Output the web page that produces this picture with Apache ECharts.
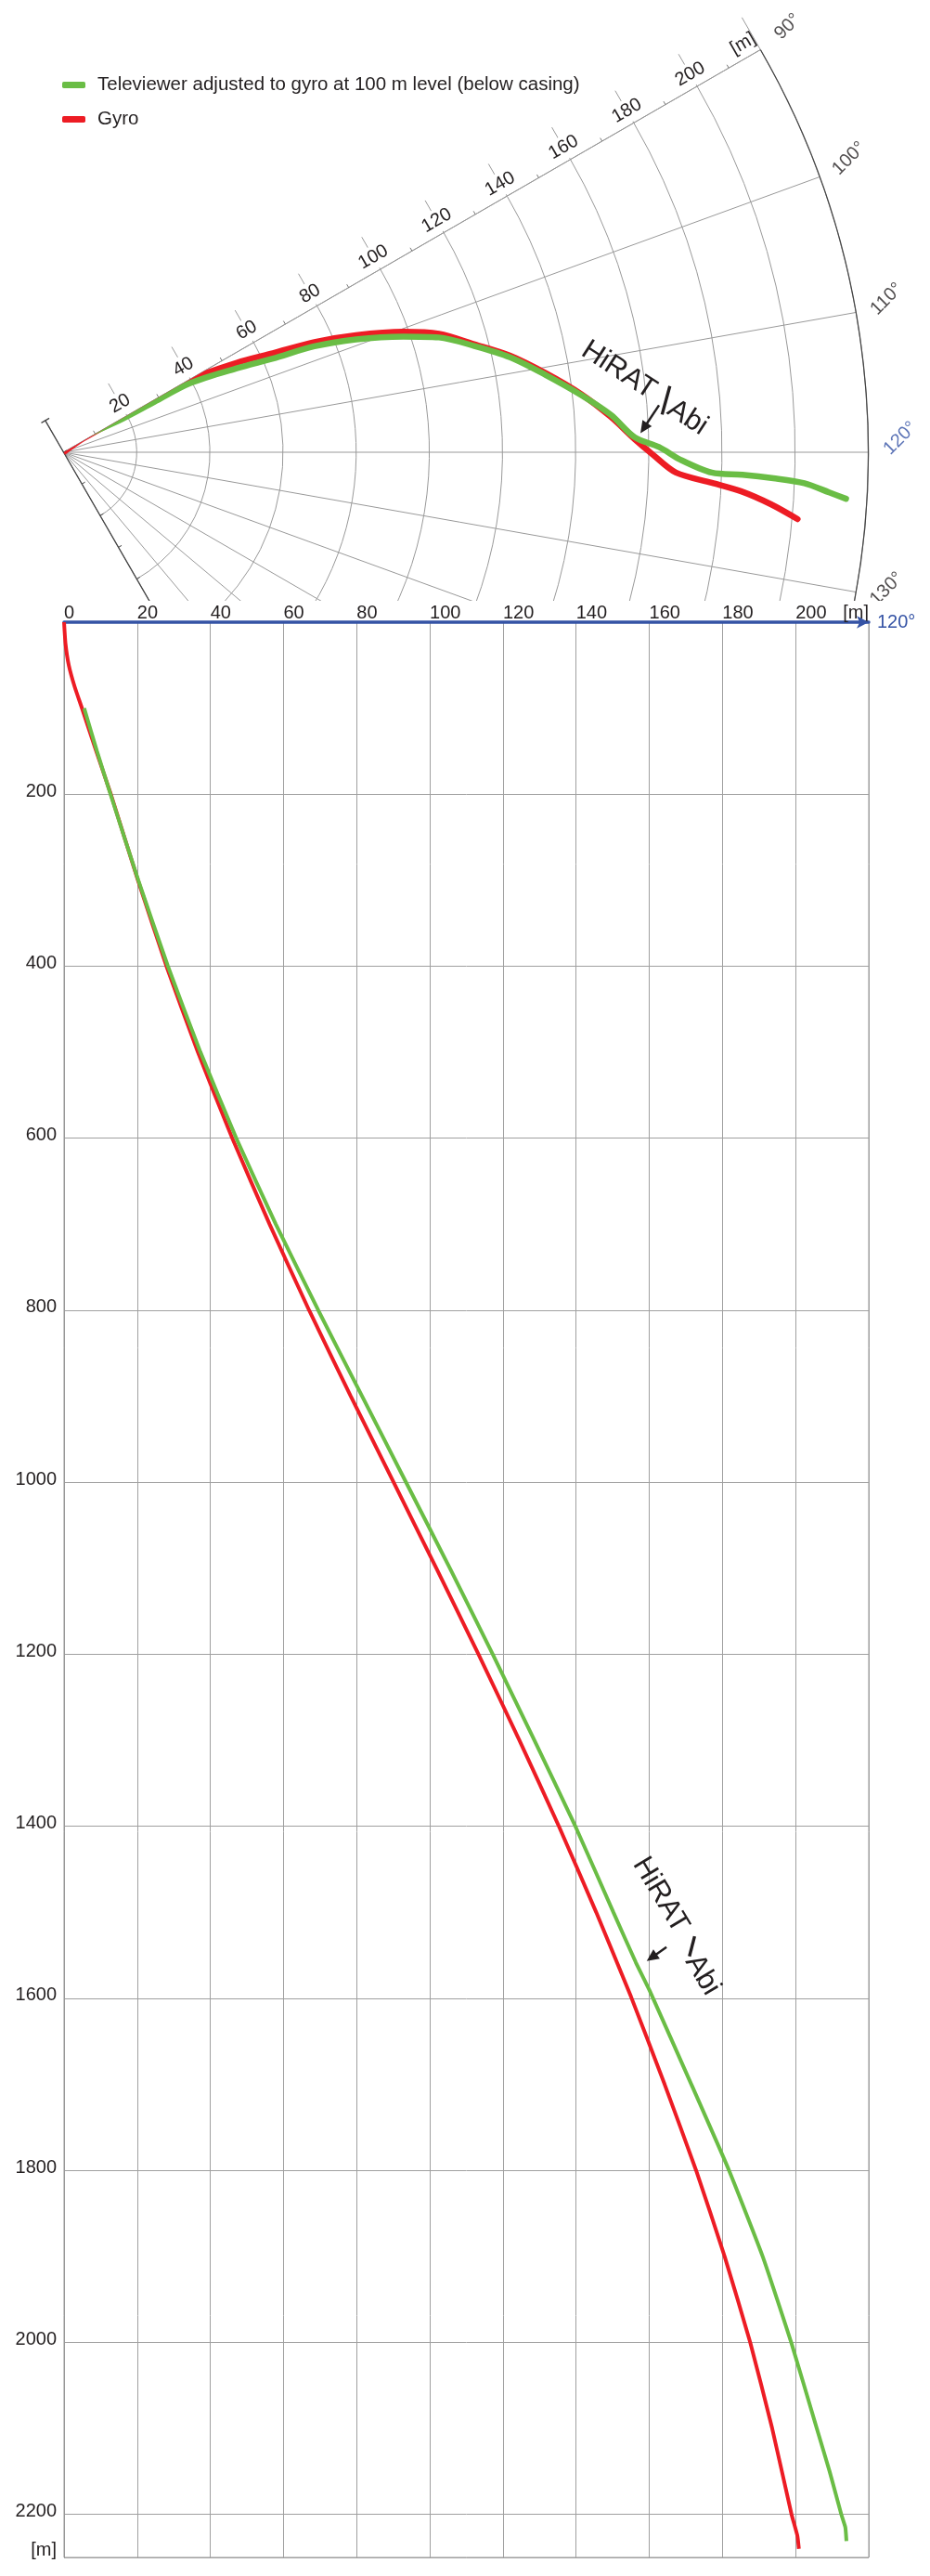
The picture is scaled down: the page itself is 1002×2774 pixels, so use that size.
<!DOCTYPE html>
<html>
<head>
<meta charset="utf-8">
<title>Borehole deviation</title>
<script src="https://cdn.jsdelivr.net/npm/echarts@6/dist/echarts.min.js"></script>
<style>
  html, body { margin: 0; padding: 0; background: #fff; }
  #plan { width: 1002px; height: 647px; }
  #section { width: 1002px; height: 2127px; }
</style>
</head>
<body>
<div id="plan"></div>
<div id="section"></div>
<script>
const FONT = '"Liberation Sans", Arial, Helvetica, sans-serif';
const BLUE = '#3553a5';
const RED = '#ed1c24';
const GREEN = '#6abd45';
const INK = '#231f20';
const GRID = '#a0a0a0';

const tvName = 'Televiewer adjusted to gyro at 100 m level (below casing)';
const gyroName = 'Gyro';

// plan view: horizontal distance from collar [m] and azimuth [deg]
const gyroPlanR  = [0, 6.5, 17.6, 28.9, 39.8, 53.4, 63.3, 74.9, 86.1, 98.6, 107.6, 116.2, 124.9, 133.6, 142.4, 149.9, 156.2, 161.0, 167.5, 177.4, 185.6, 193.9, 201.5];
const gyroPlanAz = [85, 85.0, 88.7, 89.1, 90.0, 92.7, 94.7, 96.3, 98.2, 100.5, 102.5, 105.3, 107.8, 110.7, 113.6, 116.3, 118.7, 120.2, 121.9, 122.7, 123.3, 124.2, 125.2];
const tvPlanR  = [6.1, 17.3, 28.3, 39.3, 52.8, 62.7, 74.4, 85.7, 98.1, 107.3, 116.0, 124.8, 133.5, 142.4, 150.0, 156.2, 162.8, 168.7, 177.3, 185.7, 194.2, 202.7, 209.6, 214.3];
const tvPlanAz = [79.0, 90.2, 91.0, 91.4, 94.2, 95.9, 97.1, 98.9, 101.2, 103.0, 105.5, 108.0, 110.9, 113.7, 116.1, 118.5, 119.5, 120.7, 121.8, 121.9, 122.1, 122.4, 123.0, 123.4];

// section along 120 deg: depth [m] and offset [m]
const gyroDepth  = [0, 25, 50, 75, 100, 150, 200, 300, 400, 500, 600, 700, 800, 900, 1000, 1100, 1200, 1300, 1400, 1500, 1598, 1700, 1800, 1900, 2000, 2100, 2200, 2225, 2240];
const gyroOffset = [0, 0.4, 1.3, 2.9, 4.9, 8.8, 12.8, 20.2, 28.0, 36.6, 46.0, 56.2, 67.0, 78.4, 90.1, 101.8, 113.3, 124.5, 135.3, 145.5, 155.0, 164.2, 172.8, 180.6, 187.6, 193.6, 198.9, 200.5, 200.9];
const tvDepth  = [100, 150, 200, 300, 400, 500, 600, 700, 800, 900, 1000, 1100, 1200, 1300, 1400, 1500, 1558, 1591, 1700, 1800, 1900, 2000, 2100, 2150, 2200, 2215, 2231];
const tvOffset = [5.5, 9.0, 12.7, 20.3, 28.4, 37.3, 47.1, 57.9, 69.5, 81.5, 93.5, 105.5, 117.2, 128.6, 139.8, 150.2, 156.3, 160.1, 171.5, 181.8, 191.0, 198.8, 205.8, 209.3, 212.5, 213.6, 213.9];

// axis ticks
const azimuthLabels = [90, 100, 110, 120, 130];
const planMaxR = 220;
const sectionMaxX = 220;
const sectionMaxDepth = 2250;

const zip = (a, b) => a.map((v, i) => [v, b[i]]);

// screen offset -> offset in the frame of a label rotated by deg
function localOffset(sx, sy, deg) {
  const t = deg * Math.PI / 180, c = Math.cos(t), s = Math.sin(t);
  return [sx * c - sy * s, sx * s + sy * c];
}

// ---------- plan view (polar) ----------
const plan = echarts.init(document.getElementById('plan'));
const polarBox = { center: [68.5, 487], radius: [0, 867] };
const AZ_ROT = 45;

plan.setOption({
  animation: false,
  textStyle: { fontFamily: FONT },
  legend: {
    data: [tvName, gyroName],
    orient: 'vertical',
    left: 62, top: 76,
    itemWidth: 25, itemHeight: 7, itemGap: 16,
    icon: 'roundRect',
    textStyle: { fontSize: 20.5, color: INK, padding: [0, 0, 0, 8] }
  },
  polar: [polarBox, polarBox],
  angleAxis: [
    {
      polarIndex: 0, type: 'value', min: 90, max: 180, interval: 10,
      startAngle: 30, endAngle: -60, clockwise: true,
      axisLine: { lineStyle: { color: '#444', width: 1.2 } },
      axisTick: { show: false },
      axisLabel: { show: false },
      splitLine: { lineStyle: { color: '#999', width: 1 } }
    },
    {
      // only there to carry the 180 deg radius axis
      polarIndex: 1, type: 'value', min: 180, max: 270,
      startAngle: -60, endAngle: -150, clockwise: true, show: false
    }
  ],
  radiusAxis: [
    {
      polarIndex: 0, type: 'value', min: 0, max: planMaxR, interval: 20,
      axisLine: { lineStyle: { color: '#999', width: 1 } },
      axisTick: { length: 40, lineStyle: { color: '#999', width: 1 } },
      minorTick: { show: true, splitNumber: 2, length: 4, lineStyle: { color: '#777' } },
      splitLine: { lineStyle: { color: '#999', width: 1 } },
      axisLabel: {
        rotate: 30, margin: 2, fontSize: 20, color: INK,
        formatter: v => v === 0 ? '' : (v === planMaxR ? '{u|[m]}' : '{b|' + v + '}'),
        rich: {
          b: { fontSize: 20, color: INK, backgroundColor: '#fff', padding: [2, 3, 3, 3] },
          u: { fontSize: 20, color: INK, padding: [0, 26, 3, 0] }
        }
      }
    },
    {
      polarIndex: 1, type: 'value', min: 0, max: planMaxR, interval: 10,
      axisLine: { lineStyle: { color: '#444', width: 1.3 } },
      axisTick: { length: 4, lineStyle: { color: '#444' } },
      axisLabel: { show: false },
      splitLine: { show: false }
    }
  ],
  series: [
    {
      name: gyroName, type: 'line', coordinateSystem: 'polar', polarIndex: 0,
      data: zip(gyroPlanR, gyroPlanAz), smooth: 0.3, showSymbol: false, clip: false,
      color: RED, lineStyle: { color: RED, width: 6.5, cap: 'round', join: 'round' }
    },
    {
      name: tvName, type: 'line', coordinateSystem: 'polar', polarIndex: 0,
      data: zip(tvPlanR, tvPlanAz), smooth: 0.3, showSymbol: false, clip: false,
      color: GREEN, lineStyle: { color: GREEN, width: 6.5, cap: 'round', join: 'round' }
    },
    {
      // azimuth labels outside the outer arc, plus the 120 deg arrow
      type: 'scatter', coordinateSystem: 'polar', polarIndex: 0, silent: true, clip: false,
      symbolSize: 1, itemStyle: { color: 'rgba(0,0,0,0)' },
      data: azimuthLabels.map(a => ({
        value: [228, a],
        label: a === 120
          ? { color: BLUE, offset: localOffset(3, -15, AZ_ROT) }
          : { offset: localOffset(2, -9, AZ_ROT) }
      })),
      label: {
        show: true, position: 'inside', rotate: AZ_ROT, fontSize: 20, color: INK,
        formatter: p => p.value[1] + '°'
      },
      markLine: {
        silent: true, symbol: ['none', 'arrow'], symbolSize: [10, 13],
        label: { show: false },
        lineStyle: { color: BLUE, width: 3, type: 'solid' },
        data: [[{ coord: [0, 120] }, { coord: [221, 120] }]]
      }
    }
  ]
});

// ---------- section (depth vs offset) ----------
const section = echarts.init(document.getElementById('section'));
section.setOption({
  animation: false,
  textStyle: { fontFamily: FONT },
  grid: { left: 69, right: 66, top: 23, bottom: 20, show: true, borderColor: '#999', borderWidth: 1 },
  xAxis: [
    {
      type: 'value', position: 'top', min: 0, max: sectionMaxX, interval: 20,
      axisLine: { lineStyle: { color: BLUE, width: 3.5 }, symbol: ['none', 'arrow'], symbolSize: [10, 13] },
      axisTick: { show: false },
      axisLabel: { align: 'left', margin: 0, fontSize: 20, color: INK, formatter: v => v === sectionMaxX ? '' : v },
      splitLine: { lineStyle: { color: GRID, width: 1 } },
      name: '120°', nameLocation: 'end', nameGap: 9,
      nameTextStyle: { color: BLUE, fontSize: 20, verticalAlign: 'middle' }
    },
    {
      type: 'value', position: 'top', min: 0, max: sectionMaxX, interval: 20,
      axisLine: { show: false }, axisTick: { show: false }, splitLine: { show: false },
      axisLabel: { align: 'right', margin: 0, fontSize: 20, color: INK, formatter: v => v === sectionMaxX ? '[m]' : '' }
    }
  ],
  yAxis: {
    type: 'value', inverse: true, min: 0, max: sectionMaxDepth, interval: 200,
    axisLine: { lineStyle: { color: '#999', width: 1 } },
    axisTick: { show: false },
    splitLine: { lineStyle: { color: GRID, width: 1 } },
    axisLabel: {
      margin: 8, fontSize: 20, color: INK, padding: [0, 0, 6, 0],
      formatter: v => v === 0 ? '' : (v === sectionMaxDepth ? '{u|[m]}' : v),
      rich: { u: { fontSize: 20, color: INK, padding: [0, 0, 10, 0] } }
    }
  },
  series: [
    {
      name: gyroName, type: 'line', data: zip(gyroOffset, gyroDepth),
      showSymbol: false, smooth: 0.15, color: RED,
      lineStyle: { color: RED, width: 4 }
    },
    {
      name: tvName, type: 'line', data: zip(tvOffset, tvDepth),
      showSymbol: false, smooth: 0.15, color: GREEN,
      lineStyle: { color: GREEN, width: 4 }
    }
  ]
});

// ---------- HiRAT | Abi annotations ----------
function arrow(from, tip) {
  const dx = tip[0] - from[0], dy = tip[1] - from[1];
  const len = Math.hypot(dx, dy), ux = dx / len, uy = dy / len;
  const hl = 13, hw = 6;
  const bx = tip[0] - ux * hl, by = tip[1] - uy * hl;
  return [
    { type: 'line', shape: { x1: from[0], y1: from[1], x2: bx + ux * 2, y2: by + uy * 2 }, style: { stroke: INK, lineWidth: 2.5 } },
    { type: 'polygon', shape: { points: [tip, [bx - uy * hw, by + ux * hw], [bx + uy * hw, by - ux * hw]] }, style: { fill: INK } }
  ];
}

function hiratAbi(tip, o) {
  const at = d => [tip[0] + d[0], tip[1] + d[1]];
  const rot = -o.angle * Math.PI / 180;
  const txt = (s, d) => {
    const p = at(d);
    return {
      type: 'text', x: p[0], y: p[1], rotation: rot,
      style: { text: s, fontSize: o.size, fontFamily: FONT, fill: INK, align: 'center', verticalAlign: 'middle' }
    };
  };
  const b1 = at(o.bar[0]), b2 = at(o.bar[1]);
  return [].concat(
    arrow(at(o.from), tip),
    [{ type: 'line', shape: { x1: b1[0], y1: b1[1], x2: b2[0], y2: b2[1] }, style: { stroke: INK, lineWidth: 3.4 } }],
    [txt('HiRAT', o.hirat), txt('Abi', o.abi)]
  );
}

let planTip = plan.convertToPixel({ seriesIndex: 0 }, [157.8, 118.1]);
if (!planTip) planTip = [690, 467];
let back = plan.convertToPixel({ seriesIndex: 0 }, [10, 0]);
let centre = plan.convertToPixel({ seriesIndex: 0 }, [0, 120]);

const planGraphics = hiratAbi(planTip, {
  angle: 33, size: 31,
  from: [20, -30], bar: [[31.7, -50.7], [23.3, -20]],
  hirat: [-23.3, -67.7], abi: [50.7, -16.7]
});
if (back && centre) {
  // short back-sight past the collar, with a cross bar
  const ux = (back[0] - centre[0]) / 40, uy = (back[1] - centre[1]) / 40;
  planGraphics.push(
    { type: 'line', shape: { x1: centre[0], y1: centre[1], x2: back[0], y2: back[1] }, style: { stroke: '#444', lineWidth: 1.3 } },
    { type: 'line', shape: { x1: back[0] - uy * 5, y1: back[1] + ux * 5, x2: back[0] + uy * 5, y2: back[1] - ux * 5 }, style: { stroke: '#444', lineWidth: 1.3 } }
  );
}
plan.setOption({ graphic: { elements: planGraphics.map(g => Object.assign({ z: 100 }, g)) } });

let sectionTip = section.convertToPixel({ gridIndex: 0 }, [159.3, 1556.6]);
const sectionGraphics = hiratAbi(sectionTip, {
  angle: 59, size: 31,
  from: [21.3, -15], bar: [[51.6, -26.7], [46, -5]],
  hirat: [15, -71], abi: [60, 15]
});
section.setOption({ graphic: { elements: sectionGraphics.map(g => Object.assign({ z: 100 }, g)) } });
</script>
</body>
</html>
